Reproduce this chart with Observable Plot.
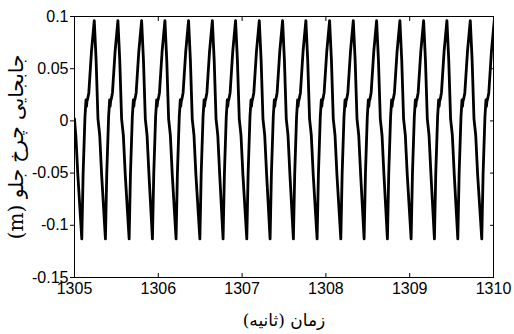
<!DOCTYPE html>
<html><head><meta charset="utf-8">
<script src="https://cdn.jsdelivr.net/npm/d3@7"></script>
<script src="https://cdn.jsdelivr.net/npm/@observablehq/plot@0.6"></script>
<style>
body{margin:0;background:#fff;}
#chart svg{display:block;}
g[aria-label="x-axis label"] text, g[aria-label="y-axis label"] text{font-family:"DejaVu Serif","DejaVu Sans",serif;direction:rtl;unicode-bidi:embed;}
g[aria-label="x-axis label"] text{font-size:17px;}
g[aria-label="y-axis label"] text{font-size:20px;}
</style>
</head><body><div id="chart"></div>
<script>
// Axis ticks and labels
const xTicks = [1305, 1306, 1307, 1308, 1309, 1310];
const xTickLabels = ["1305", "1306", "1307", "1308", "1309", "1310"];
const yTicks = [-0.15, -0.1, -0.05, 0, 0.05, 0.1];
const yTickLabels = ["-0.15", "-0.1", "-0.05", "0", "0.05", "0.1"];
const xLabel = "زمان (ثانیه)";
const yLabel = "جابجایی چرخ جلو (m)";

// Start of the trace (before the first visible trough), seconds and metres
const leadTimes = [1305.000, 1305.008, 1305.016, 1305.040];
const leadValues = [0.002, -0.007, -0.014, -0.052];

// Times of each trough (s)
const troughTimes = [1305.087, 1305.369, 1305.652, 1305.930, 1306.212, 1306.496, 1306.773,
  1307.056, 1307.334, 1307.612, 1307.895, 1308.178, 1308.456, 1308.734, 1309.017,
  1309.295, 1309.574, 1309.860];

// One cycle of the displacement: time after trough (s) and value (m)
const cycleOffsets = [0, 0.016, 0.038, 0.045, 0.050, 0.056, 0.062, 0.070, 0.084, 0.115, 0.149, 0.171, 0.193, 0.205, 0.214, 0.237];
const cycleValues = [-0.113, -0.050, 0.004, 0.013, 0.020, 0.014, 0.019, 0.021, 0.027, 0.066, 0.096, 0.058, 0.002, -0.007, -0.014, -0.052];

const data = [];
leadTimes.forEach((t, i) => data.push({t, y: leadValues[i]}));
troughTimes.forEach(T => cycleOffsets.forEach((o, j) => {
  const t = T + o;
  if (t <= 1310.02) data.push({t, y: cycleValues[j]});
}));

const plot = Plot.plot({
  width: 514,
  height: 334,
  marginLeft: 74,
  marginRight: 21,
  marginTop: 16,
  marginBottom: 57,
  x: {domain: [1305, 1310]},
  y: {domain: [-0.15, 0.1]},
  style: {fontFamily: '"Liberation Sans", Arial, sans-serif', fontSize: "16px", color: "#000", background: "#fff", overflow: "visible"},
  marks: [
    Plot.axisX({ticks: xTicks, tickSize: -4, tickPadding: 9, tickFormat: d => xTickLabels[xTicks.indexOf(d)],
      label: xLabel, labelAnchor: "center", labelArrow: "none", labelOffset: 48}),
    Plot.axisX({anchor: "top", ticks: xTicks, tickSize: -4, tickFormat: () => "", label: null}),
    Plot.axisY({ticks: yTicks, tickSize: 4, tickPadding: 2, tickFormat: d => yTickLabels[yTicks.indexOf(d)],
      label: yLabel, labelAnchor: "center", labelArrow: "none", labelOffset: 66}),
    Plot.axisY({anchor: "right", ticks: yTicks, tickSize: -4, tickFormat: () => "", label: null}),
    Plot.line(data, {x: "t", y: "y", stroke: "#000", strokeWidth: 2.8, strokeLinejoin: "round", clip: true}),
    Plot.frame({stroke: "#000", strokeWidth: 1})
  ]
});
document.getElementById("chart").appendChild(plot);
</script>
</body></html>
